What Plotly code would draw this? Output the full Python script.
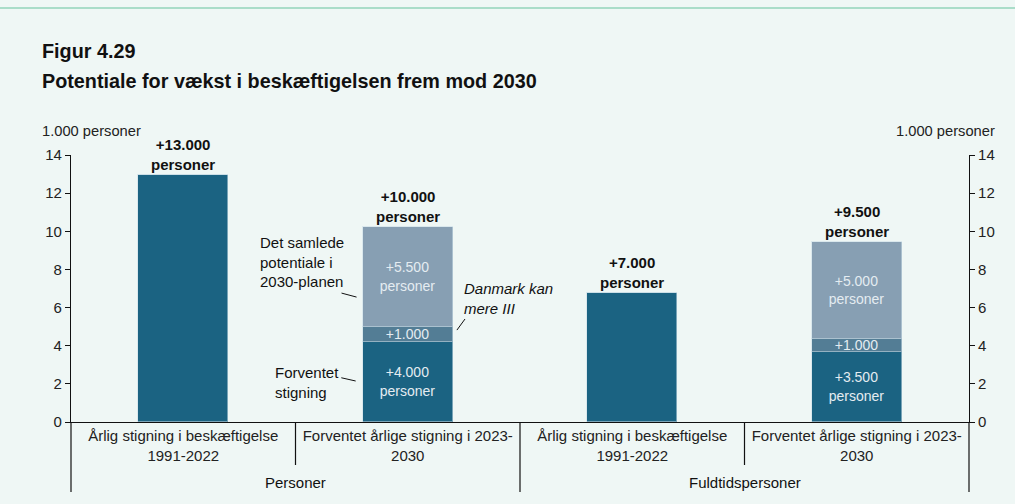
import plotly.graph_objects as go

# Categories (inner level) and their outer groups
categories = [
    "Årlig stigning i beskæftigelse<br>1991-2022",
    "Forventet årlige stigning i 2023-<br>2030",
    "Årlig stigning i beskæftigelse<br>1991-2022",
    "Forventet årlige stigning i 2023-<br>2030",
]
groups = ["Personer", "Fuldtidspersoner"]

# Stacked series, 1.000 personer
forventet = [12.95, 4.2, 6.76, 3.65]          # historic / expected rise
danmark_kan = [0, 0.78, 0, 0.7]               # Danmark kan mere III
potentiale = [0, 5.24, 0, 5.07]               # rest of the 2030 potential

forventet_text = ["", "+4.000<br>personer", "", "+3.500<br>personer"]
danmark_text = ["", "+1.000", "", "+1.000"]
potentiale_text = ["", "+5.500<br>personer", "", "+5.000<br>personer"]
total_text = ["+13.000<br>personer", "+10.000<br>personer",
              "+7.000<br>personer", "+9.500<br>personer"]

y_ticks = [0, 2, 4, 6, 8, 10, 12, 14]
unit_label = "1.000 personer"

BG = "#eff7f5"
DARK = "#1b6382"
MID = "#537d95"
LIGHT = "#879fb3"
INSIDE_TXT = "#e4ecf1"
FONT = "Liberation Sans, Arial, sans-serif"

x = list(range(len(categories)))

fig = go.Figure()
for vals, txt, col in [(forventet, forventet_text, DARK),
                       (danmark_kan, danmark_text, MID),
                       (potentiale, potentiale_text, LIGHT)]:
    fig.add_trace(go.Bar(
        x=x, y=vals, text=txt, width=0.4,
        marker=dict(color=col, line=dict(color="rgba(200,220,230,0.55)", width=1)),
        textposition="inside", insidetextanchor="middle",
        textfont=dict(color=INSIDE_TXT, size=14, family=FONT),
        hoverinfo="skip", showlegend=False,
    ))

# invisible companion trace for the right-hand axis
fig.add_trace(go.Scatter(x=[0], y=[0], yaxis="y2", mode="markers",
                         marker=dict(opacity=0), hoverinfo="skip", showlegend=False))

totals = [a + b + c for a, b, c in zip(forventet, danmark_kan, potentiale)]
annotations = []
for xi, tot, t in zip(x, totals, total_text):
    annotations.append(dict(
        x=xi, y=tot, xref="x", yref="y", text="<b>" + t + "</b>",
        showarrow=False, xanchor="center", yanchor="bottom", yshift=0,
        font=dict(size=15, color="#111", family=FONT)))

# call-out texts around the second bar
callout_font = dict(size=15, color="#111", family=FONT)
annotations += [
    dict(x=0.332, y=8.4, xref="x", yref="y", xanchor="left", align="left",
         text="Det samlede<br>potentiale i<br>2030-planen", showarrow=False,
         font=callout_font),
    dict(x=0.399, y=2.05, xref="x", yref="y", xanchor="left", align="left",
         text="Forventet<br>stigning", showarrow=False, font=callout_font),
    dict(x=1.242, y=6.5, xref="x", yref="y", xanchor="left", align="left",
         text="<i>Danmark kan<br>mere III</i>", showarrow=False, font=callout_font),
]

# titles and unit labels
annotations += [
    dict(x=-0.0345, y=1.39, xref="paper", yref="paper", xanchor="left",
         yanchor="middle", text="<b>Figur 4.29</b>", showarrow=False,
         font=dict(size=19.8, color="#111", family=FONT)),
    dict(x=-0.0345, y=1.279, xref="paper", yref="paper", xanchor="left",
         yanchor="middle", text="<b>Potentiale for vækst i beskæftigelsen frem mod 2030</b>",
         showarrow=False, font=dict(size=19.8, color="#111", family=FONT)),
    dict(x=-0.034, y=1.09, xref="paper", yref="paper", xanchor="left",
         yanchor="middle", text=unit_label, showarrow=False,
         font=dict(size=14.7, color="#222", family=FONT)),
    dict(x=1.031, y=1.09, xref="paper", yref="paper", xanchor="right",
         yanchor="middle", text=unit_label, showarrow=False,
         font=dict(size=14.7, color="#222", family=FONT)),
]

# outer group labels
n = len(categories)
for gi, g in enumerate(groups):
    annotations.append(dict(
        x=(gi + 0.5) / len(groups), y=-0.228, xref="paper", yref="paper",
        text=g, showarrow=False, xanchor="center", yanchor="middle",
        font=dict(size=15, color="#111", family=FONT)))

shapes = []
# dividers below the axis: long ones around groups, short ones between categories
for k in range(n + 1):
    long_div = k % 2 == 0
    shapes.append(dict(type="line", xref="paper", yref="paper",
                       x0=k / n, x1=k / n, y0=0, y1=-0.262 if long_div else -0.161,
                       line=dict(color="#111", width=1.2)))

# leader lines for the call-outs
for x0, y0, x1, y1 in [(0.705, 6.76, 0.772, 6.55),
                       (0.704, 2.32, 0.768, 2.15),
                       (1.219, 4.82, 1.255, 5.40)]:
    shapes.append(dict(type="line", xref="x", yref="y", x0=x0, y0=y0, x1=x1, y1=y1,
                       line=dict(color="#111", width=1)))

# thin accent line at the top of the page
shapes.append(dict(type="line", xref="paper", yref="paper", x0=-0.2, x1=1.2,
                   y0=1.5506, y1=1.5506, line=dict(color="#93d4ba", width=1.5)))

axis_font = dict(size=15, color="#222", family=FONT)
fig.update_layout(
    width=1015, height=504,
    margin=dict(l=71, r=46, t=155, b=82),
    paper_bgcolor=BG, plot_bgcolor=BG,
    barmode="stack", bargap=0,
    uniformtext=dict(minsize=14, mode="show"),
    xaxis=dict(range=[-0.5, 3.5], tickvals=x, ticktext=categories,
               showgrid=False, zeroline=False, showline=True, linecolor="#111",
               linewidth=1.2, ticks="", tickfont=axis_font, fixedrange=True),
    yaxis=dict(range=[0, 14], tickvals=y_ticks, showgrid=False, zeroline=False,
               showline=True, linecolor="#111", linewidth=1.2, ticks="outside",
               ticklen=5, tickcolor="#111", tickfont=axis_font, fixedrange=True),
    yaxis2=dict(range=[0, 14], tickvals=y_ticks, overlaying="y", side="right",
                showgrid=False, zeroline=False, showline=True, linecolor="#111",
                linewidth=1.2, ticks="outside", ticklen=5, tickcolor="#111",
                tickfont=axis_font, fixedrange=True),
    annotations=annotations, shapes=shapes,
    font=dict(family=FONT),
)

fig.write_html("out.html")
